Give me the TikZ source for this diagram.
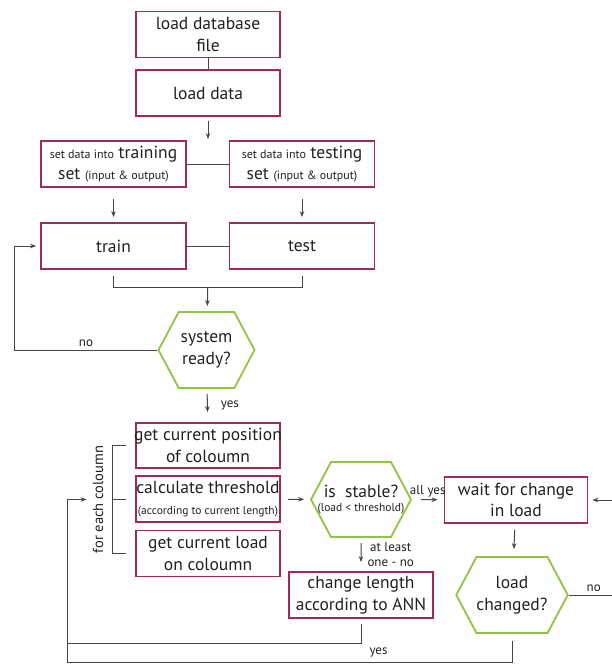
\documentclass[tikz,border=0pt]{standalone}
\usepackage{fontspec}
\setmainfont{PT Sans}
\usetikzlibrary{shapes.symbols,calc,arrows.meta}
\definecolor{boxred}{RGB}{158,42,92}
\definecolor{hexgreen}{RGB}{141,198,63}
\definecolor{linegray}{RGB}{70,70,70}
\definecolor{textgray}{RGB}{35,31,32}
\newcommand{\bigsize}{\fontsize{17.5}{21.5}\selectfont}
\newcommand{\smallsize}{\fontsize{12}{14}\selectfont}

\begin{document}
\begin{tikzpicture}[x=1pt,y=-1pt,
        box/.style={draw=boxred, line width=1.8pt, minimum width=144pt, minimum height=46pt, inner sep=0pt, align=center, font=\bigsize, text=textgray},
        decision/.style={signal, signal to=east and west, signal pointer angle=124, draw=hexgreen, line width=1.8pt, minimum width=96pt, minimum height=76pt, inner sep=0pt, align=center, font=\bigsize, text=textgray},
        conn/.style={draw=linegray, line width=1pt},
        lbl/.style={font=\fontsize{13}{15}\selectfont, text=textgray, inner sep=1pt, align=center},
        >={Stealth[length=6pt,width=4.5pt]}]
        \useasboundingbox (0,0) rectangle (611,664);

        \node[box] (dbfile) at (208,34.5) {load database\\file};
        \node[box] (loaddata) at (208,93) {load data};
        \node[box, minimum width=145pt] (trainset) at (113.5,164) {{\smallsize set data into} training\\set {\smallsize (input \& output)}};
        \node[box, minimum width=145pt] (testset) at (302,164) {{\smallsize set data into} testing\\set {\smallsize (input \& output)}};
        \node[box, minimum width=145pt] (train) at (113.5,246) {train};
        \node[box, minimum width=145pt] (test) at (302,246) {test};
        \node[decision] (sysready) at (206.5,350) {system\\ready?};
        \node[box, minimum height=45pt] (getpos) at (208,445.5) {\makebox[136pt]{get current position}\\of coloumn};
        \node[box] (calc) at (208,499) {\makebox[136pt]{calculate threshold}\\{\fontsize{11.5}{12}\selectfont\makebox[136pt]{(according to current length)}}};
        \node[box] (getload) at (208,553.5) {get current load\\on coloumn};
        \node[lbl, rotate=90, font=\fontsize{14.5}{16}\selectfont] (foreach) at (98,499.5) {for each coloumn};
        \node[decision, minimum width=94pt, minimum height=75pt, font=\fontsize{17.5}{14.5}\selectfont] (stable) at (361,499.5) {\makebox[60pt]{is\ \ stable?}\\{\fontsize{11.5}{14.5}\selectfont\makebox[60pt]{(load < threshold)}}};
        \node[box, minimum width=143pt] (wait) at (516,500) {wait for change\\in load};
        \node[box] (changelen) at (361,595) {change length\\according to ANN};
        \node[decision] (loadchanged) at (512,595) {load\\changed?};
        \coordinate (join) at ($(train.south)!0.5!(test.south)+(0,18)$);
        \coordinate (corner) at (67,662);

        \path[conn] (dbfile) -- (loaddata);
        \path[conn,->,shorten <=4pt,shorten >=1pt] (loaddata) -- (loaddata.south |- trainset.north);
        \path[conn] (trainset) -- (testset);
        \path[conn,->,shorten <=11pt,shorten >=5pt] (trainset) -- (train);
        \path[conn,->,shorten <=11pt,shorten >=5pt] (testset) -- (test);
        \path[conn] (train) -- (test);
        \path[conn] ([yshift=-6pt]train.south) -- ++(0,12) -| ([yshift=-6pt]test.south);
        \path[conn,->,shorten >=5pt] (join) -- (sysready);
        \path[conn,->,shorten >=4pt] (sysready.west) -- node[lbl,above=2pt] {no} ++(-143,0) |- (train.west);
        \path[conn,->,shorten <=5pt,shorten >=10pt] (sysready) -- node[lbl,right=12pt] {yes} (getpos);
        \path[conn] ([xshift=-9pt]getpos.west) -- ++(-14,0) |- ([xshift=-9pt]getload.west);
        \path[conn] ([xshift=-9pt]calc.west) -- ++(-14,0);
        \path[conn,->,shorten <=7pt,shorten >=6pt] (calc) -- (stable);
        \path[conn,->,shorten <=9pt,shorten >=6pt] (stable) -- node[lbl,above=1pt] {all yes} (wait);
        \path[conn,->,shorten <=6pt,shorten >=7pt] (wait) -- (loadchanged);
        \path[conn,->,shorten <=5pt,shorten >=9pt] (stable) -- node[lbl,right=5pt] {at least\\one - no} (changelen);
        \path[conn,->,shorten >=4pt] (loadchanged.east) -- node[lbl,above=2pt] {no} ++(50,0) |- (wait.east);
        \path[conn,->,shorten >=5pt] ([yshift=-7pt]loadchanged.south) |- node[lbl,above=3pt,pos=0.65] {yes} (corner) |- (foreach.north);
        \path[conn] ([yshift=-5pt]changelen.south) -- ++(0,20) -| (corner);
    \end{tikzpicture}
\end{document}
